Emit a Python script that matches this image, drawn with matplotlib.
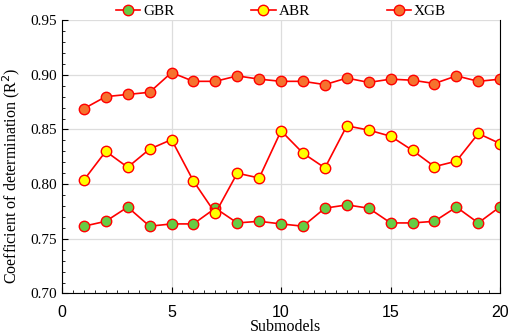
import matplotlib.pyplot as plt
from matplotlib.ticker import MultipleLocator

submodels = list(range(1, 21))
gbr = [0.7615, 0.766, 0.779, 0.7615, 0.7636, 0.7636, 0.778, 0.7645, 0.766, 0.7636,
       0.7615, 0.778, 0.781, 0.778, 0.7645, 0.7645, 0.766, 0.779, 0.7645, 0.7794]
abr = [0.8037, 0.830, 0.8154, 0.832, 0.8407, 0.8028, 0.7733, 0.810, 0.8056, 0.8487,
       0.8283, 0.8148, 0.8533, 0.8494, 0.8438, 0.8308, 0.816, 0.821, 0.8463, 0.837]
xgb = [0.869, 0.880, 0.882, 0.884, 0.902, 0.894, 0.894, 0.899, 0.896, 0.894,
       0.894, 0.891, 0.897, 0.893, 0.896, 0.895, 0.892, 0.899, 0.894, 0.896]

serif = "Liberation Serif"

fig = plt.figure(figsize=(5.12, 3.35), dpi=100)
ax = fig.add_axes([0.121, 0.124, 0.856, 0.816])

style = dict(color="#ff0000", lw=1.2, marker="o", ms=7.5, mec="#ff0000", mew=1.0)
ax.plot(submodels, gbr, mfc="#66cc44", label="GBR", **style)
ax.plot(submodels, abr, mfc="#ffff00", label="ABR", **style)
ax.plot(submodels, xgb, mfc="#f5722e", label="XGB", **style)

ax.set_xlim(0, 20)
ax.set_ylim(0.70, 0.95)
ax.xaxis.set_major_locator(MultipleLocator(5))
ax.xaxis.set_minor_locator(MultipleLocator(0.5))
ax.yaxis.set_major_locator(MultipleLocator(0.05))
ax.yaxis.set_minor_locator(MultipleLocator(0.01))
ax.tick_params(which="both", direction="in", top=False, right=False)
ax.tick_params(which="major", length=4)
ax.tick_params(which="minor", length=2.5)
ax.tick_params(axis="x", which="major", pad=8)
ax.grid(True, which="major", color="#dddddd", lw=0.9)
ax.set_axisbelow(True)
ax.spines["top"].set_visible(False)

ax.set_yticklabels([f"{v:.2f}" for v in ax.get_yticks()], fontfamily=serif, fontsize=11)
for lab in ax.get_xticklabels():
    lab.set_fontfamily("Liberation Sans")
    lab.set_fontsize(11.5)

ax.set_xlabel("Submodels", fontfamily=serif, fontsize=11.5)
ax.xaxis.set_label_coords(0.51, -0.095)
ax.set_ylabel("Coefficient of determination (R$^2$)", fontfamily=serif, fontsize=11.5)
ax.yaxis.set_label_coords(-0.092, 0.43)

ax.legend(loc="lower center", bbox_to_anchor=(0.5, 0.985), ncol=3, frameon=False,
          prop={"family": serif, "size": 11}, columnspacing=5.0, handlelength=1.6,
          handletextpad=0.2, borderaxespad=0)

fig.savefig("out.png", dpi=100)
